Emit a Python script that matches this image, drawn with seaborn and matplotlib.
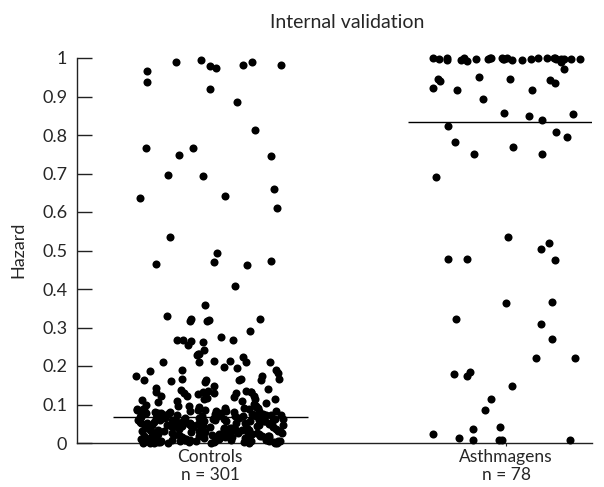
import numpy as np
import pandas as pd
import matplotlib
matplotlib.use("Agg")
import matplotlib.pyplot as plt
import seaborn as sns

categories = ["Controls", "Asthmagens"]
tick_labels = ["Controls\nn = 301", "Asthmagens\nn = 78"]
y_ticks = [0, 0.1, 0.2, 0.3, 0.4, 0.5, 0.6, 0.7, 0.8, 0.9, 1.0]
y_tick_labels = ["0", "0.1", "0.2", "0.3", "0.4", "0.5", "0.6", "0.7", "0.8", "0.9", "1"]
summary_lines = [0.068, 0.833]

controls_high = [0.966, 0.990, 0.995, 0.982, 0.982, 0.974, 0.980, 0.938, 0.989, 0.920,
                 0.885, 0.813, 0.767, 0.767, 0.747, 0.746, 0.695, 0.694, 0.661, 0.636,
                 0.641, 0.611, 0.536, 0.493, 0.474, 0.464, 0.470, 0.462, 0.408]
controls_mid = [0.358, 0.329, 0.320, 0.322, 0.318, 0.317, 0.323, 0.292, 0.267, 0.275,
                0.267, 0.262, 0.255, 0.267, 0.264, 0.241, 0.223, 0.228, 0.210, 0.210,
                0.211, 0.211]
controls_low = [0.231, 0.213, 0.214, 0.232,
                0.173, 0.188, 0.167, 0.148, 0.164, 0.183, 0.194, 0.164, 0.167, 0.197,
                0.162, 0.167, 0.190, 0.175, 0.164, 0.164, 0.143, 0.190, 0.158, 0.136,
                0.136, 0.133, 0.123, 0.130, 0.138, 0.123, 0.127, 0.133, 0.132, 0.123,
                0.130, 0.115, 0.132, 0.140, 0.130, 0.114, 0.114, 0.112, 0.105, 0.108,
                0.118, 0.102, 0.110, 0.106, 0.120]
controls_base = [0.099, 0.097, 0.095, 0.094, 0.092, 0.091, 0.090, 0.089, 0.088, 0.087,
                 0.086, 0.085, 0.084, 0.083, 0.083, 0.082, 0.081, 0.080, 0.080, 0.079,
                 0.078, 0.078, 0.077, 0.076, 0.076, 0.075, 0.075, 0.074, 0.074, 0.073,
                 0.073, 0.072, 0.072, 0.072, 0.071, 0.071, 0.070, 0.070, 0.070, 0.069,
                 0.069, 0.069, 0.068, 0.096, 0.093, 0.088, 0.085, 0.082, 0.079, 0.077,
                 0.067, 0.066, 0.066, 0.065, 0.064, 0.064, 0.063, 0.062, 0.062, 0.061,
                 0.060, 0.060, 0.059, 0.058, 0.058, 0.057, 0.056, 0.056, 0.055, 0.055,
                 0.054, 0.054, 0.053, 0.052, 0.052, 0.051, 0.051, 0.050, 0.067, 0.063,
                 0.059, 0.057, 0.053, 0.061, 0.065,
                 0.049, 0.048, 0.048, 0.047, 0.046, 0.046, 0.045, 0.044, 0.044, 0.043,
                 0.042, 0.042, 0.041, 0.040, 0.040, 0.039, 0.038, 0.038, 0.037, 0.036,
                 0.036, 0.035, 0.034, 0.034, 0.033, 0.032, 0.032, 0.031, 0.030, 0.030,
                 0.047, 0.043, 0.039, 0.035, 0.031, 0.045, 0.041, 0.037, 0.033, 0.049,
                 0.029, 0.028, 0.028, 0.027, 0.026, 0.026, 0.025, 0.024, 0.024, 0.023,
                 0.022, 0.022, 0.021, 0.020, 0.020, 0.019, 0.018, 0.018, 0.017, 0.016,
                 0.016, 0.015, 0.014, 0.014, 0.013, 0.012, 0.012, 0.011, 0.010, 0.010,
                 0.027, 0.023, 0.019, 0.015, 0.011, 0.025, 0.021, 0.017, 0.013, 0.029,
                 0.009, 0.009, 0.008, 0.008, 0.008, 0.007, 0.007, 0.007, 0.006, 0.006,
                 0.006, 0.005, 0.005, 0.005, 0.005, 0.004, 0.004, 0.004, 0.004, 0.003,
                 0.003, 0.003, 0.003, 0.002, 0.002, 0.002, 0.002, 0.002, 0.001, 0.001,
                 0.001, 0.001, 0.001, 0.000, 0.000, 0.000]

asthmagens_top = [1.000, 0.999, 0.998, 0.997, 0.999, 0.996, 0.998, 1.000, 0.995, 0.999,
                  0.997, 0.998, 0.990, 0.999, 0.996, 0.998, 0.997, 1.000, 0.999, 0.993,
                  0.998, 0.997, 0.999, 0.996, 0.998, 1.000, 0.999, 0.997]
asthmagens_rest = [0.950, 0.971, 0.945, 0.945, 0.943, 0.941, 0.934, 0.921, 0.918, 0.918,
                   0.894, 0.854, 0.857, 0.849, 0.839, 0.823, 0.809, 0.794, 0.782, 0.768,
                   0.751, 0.750, 0.692,
                   0.536, 0.520, 0.504, 0.477, 0.475, 0.479, 0.367, 0.363, 0.322, 0.310,
                   0.270, 0.222, 0.220, 0.184, 0.174, 0.178, 0.147, 0.114, 0.087, 0.042,
                   0.036, 0.024, 0.009, 0.009, 0.007, 0.008, 0.014]

controls = controls_high + controls_mid + controls_low + controls_base
asthmagens = asthmagens_top + asthmagens_rest

df = pd.DataFrame({
    "group": [categories[0]] * len(controls) + [categories[1]] * len(asthmagens),
    "hazard": controls + asthmagens,
})

sns.set_theme(style="white")
plt.rcParams["font.family"] = ["Lato", "DejaVu Sans"]

fig = plt.figure(figsize=(6.04, 4.87), dpi=100)
ax = fig.add_axes([77 / 604, 44 / 487, 515 / 604, 385 / 487])

np.random.seed(7)
sns.stripplot(data=df, x="group", y="hazard", order=categories, color="black",
              size=5.8, jitter=0.25, linewidth=0, ax=ax, clip_on=False, zorder=3)

half = 0.33
ax.hlines(summary_lines, [i - half for i in range(len(categories))],
          [i + half for i in range(len(categories))], color="black", lw=1.0, zorder=4)

ax.set_xlim(-0.45, 1.29)
ax.set_ylim(0, 1.0)
ax.set_yticks(y_ticks)
ax.set_yticklabels(y_tick_labels, fontsize=13)
ax.set_xticks(range(len(categories)))
ax.set_xticklabels(tick_labels, fontsize=12.5, linespacing=1.22)
ax.set_xlabel("")
ax.set_ylabel("")
for s in ["top", "right"]:
    ax.spines[s].set_visible(False)
for s in ["left", "bottom"]:
    ax.spines[s].set_color("#222222")
    ax.spines[s].set_linewidth(1.0)
ax.tick_params(axis="y", direction="in", length=10.5, width=1, color="#222222", pad=7, left=True)
ax.tick_params(axis="x", direction="out", length=2, width=0.8, color="#222222", pad=2, bottom=True)

fig.text(347 / 604, 1 - 22 / 487, "Internal validation", ha="center", va="center", fontsize=14)
fig.text(18 / 604, 1 - 250 / 487, "Hazard", rotation=90, ha="center", va="center", fontsize=13)

fig.savefig("out.png", dpi=100)
